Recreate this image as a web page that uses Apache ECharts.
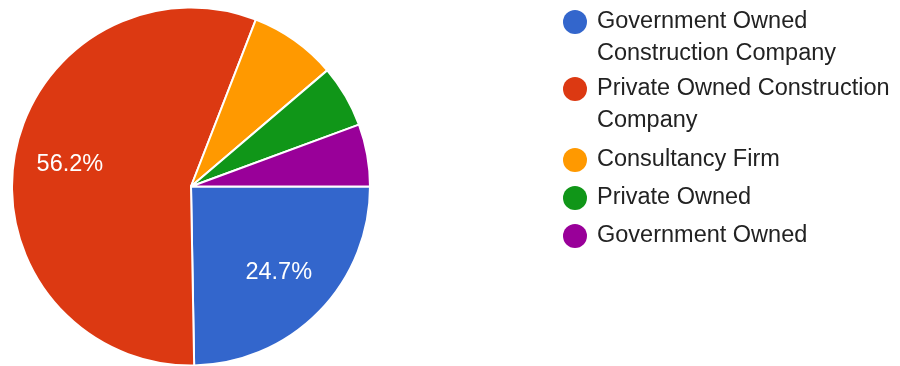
<!DOCTYPE html>
<html>
<head>
<meta charset="utf-8">
<script src="https://cdn.jsdelivr.net/npm/echarts@6/dist/echarts.min.js"></script>
<style>
html,body{margin:0;padding:0;background:#fff;}
#chart{width:900px;height:366px;}
</style>
</head>
<body>
<div id="chart"></div>
<script>
const categories = [
  'Government Owned Construction Company',
  'Private Owned Construction Company',
  'Consultancy Firm',
  'Private Owned',
  'Government Owned'
];
const legendLabels = [
  'Government Owned\nConstruction Company',
  'Private Owned Construction\nCompany',
  'Consultancy Firm',
  'Private Owned',
  'Government Owned'
];
const counts = [22, 50, 7, 5, 5];
const colors = ['#3366cc', '#dc3912', '#ff9900', '#109618', '#990099'];

const FONT = 'Arial, "Liberation Sans", sans-serif';
const CENTER = [191, 186.5];

const sliceData = categories.map((c, i) => ({ name: c, value: counts[i], itemStyle: { color: colors[i] } }));
const labelData = categories.map((c, i) => ({ name: c, value: counts[i] }));

function legendFmt(name) {
  const i = categories.indexOf(name);
  return i >= 0 ? legendLabels[i] : name;
}

const chart = echarts.init(document.getElementById('chart'), null, { renderer: 'canvas' });
chart.setOption({
  animation: false,
  backgroundColor: '#ffffff',
  legend: [
    {
      data: categories.slice(0, 2),
      orient: 'vertical',
      left: 563,
      top: 6,
      padding: 0,
      itemWidth: 29,
      itemHeight: 64,
      itemGap: 3,
      selectedMode: false,
      itemStyle: { borderWidth: 0 },
      icon: 'path://M0 0 M29 64 M0 16 A12 12 0 1 0 24 16 A12 12 0 1 0 0 16 Z',
      formatter: legendFmt,
      textStyle: { fontSize: 23.5, fontFamily: FONT, color: '#222222', lineHeight: 32 }
    },
    {
      data: categories.slice(2),
      orient: 'vertical',
      left: 563,
      top: 148,
      padding: 0,
      itemWidth: 29,
      itemHeight: 24,
      itemGap: 14,
      selectedMode: false,
      itemStyle: { borderWidth: 0 },
      icon: 'path://M0 0 M29 24 M0 12 A12 12 0 1 0 24 12 A12 12 0 1 0 0 12 Z',
      formatter: legendFmt,
      textStyle: { fontSize: 23.5, fontFamily: FONT, color: '#222222', lineHeight: 24 }
    }
  ],
  series: [
    {
      type: 'pie',
      center: CENTER,
      radius: 179,
      startAngle: 0,
      clockwise: true,
      avoidLabelOverlap: false,
      label: { show: false },
      labelLine: { show: false },
      itemStyle: { borderColor: '#ffffff', borderWidth: 2 },
      emphasis: { disabled: true },
      data: sliceData
    },
    {
      type: 'pie',
      silent: true,
      center: CENTER,
      radius: [0, 240],
      startAngle: 0,
      clockwise: true,
      avoidLabelOverlap: false,
      itemStyle: { color: 'rgba(0,0,0,0)', borderWidth: 0 },
      labelLine: { show: false },
      emphasis: { disabled: true },
      label: {
        show: true,
        position: 'inside',
        color: '#ffffff',
        fontSize: 23.5,
        fontFamily: FONT,
        formatter: p => (p.percent >= 10 ? p.percent.toFixed(1) + '%' : '')
      },
      data: labelData
    }
  ]
});
</script>
</body>
</html>
